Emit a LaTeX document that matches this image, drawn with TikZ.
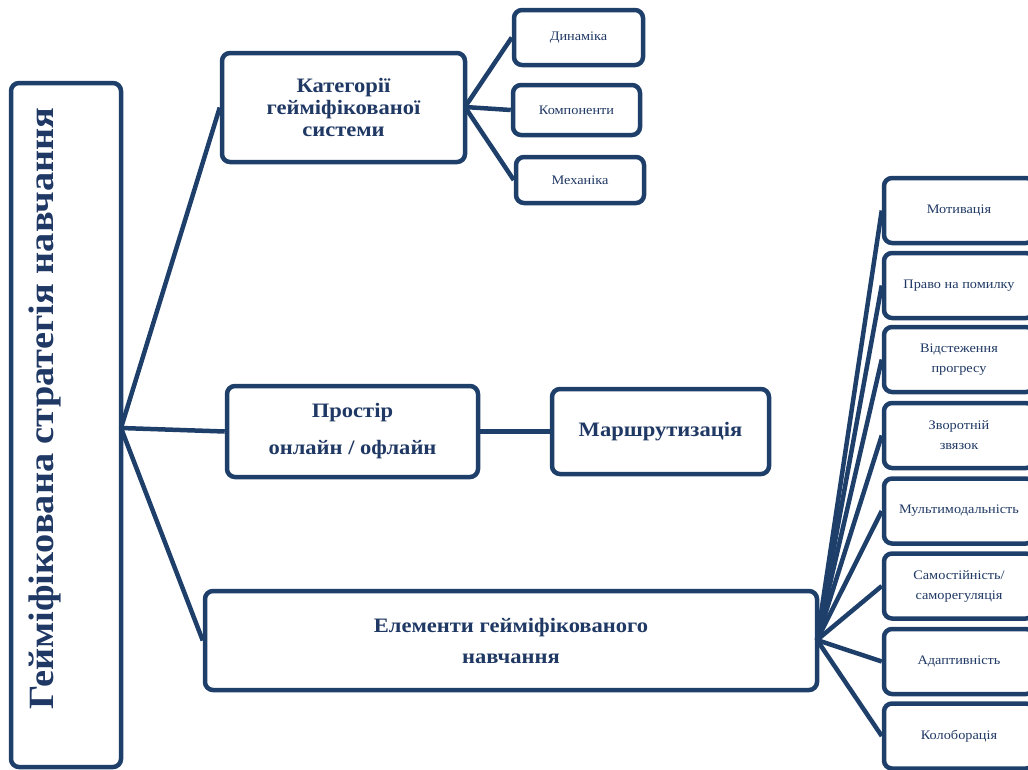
\documentclass[tikz,border=0pt]{standalone}
\usepackage{fontspec}
\setmainfont{Liberation Serif}[FakeStretch=1.1]
\newfontfamily\mainfnt{Liberation Serif}[FakeStretch=1.08]
\definecolor{navy}{HTML}{1F3F6B}
\definecolor{txt}{HTML}{1F3864}
\begin{document}
\begin{tikzpicture}[x=1pt,y=-1pt,
  box/.style={draw=navy,line width=4.5pt,rounded corners=8pt,fill=white,align=center,text=txt,inner sep=0pt},
  link/.style={draw=navy,line width=4.5pt},
  big/.style={font=\fontsize{20.5}{23}\selectfont\bfseries},
  small/.style={font=\fontsize{13}{20}\selectfont}]
\useasboundingbox (0,0) rectangle (1028,769);
\clip (0,0) rectangle (1028,769);
\coordinate (mainR) at (121,428);
\coordinate (catR) at (465,107);
\coordinate (elemR) at (817,640);
% nodes
\node[box,minimum width=110pt,minimum height=684pt] (main) at (66,425) {};
\node[text=txt,rotate=90,anchor=base,font=\mainfnt\fontsize{35.5}{40}\selectfont\bfseries] (maintext) at (53,408.5) {Гейміфікована стратегія навчання};
\node[box,big,minimum width=243pt,minimum height=109pt] (cat) at (343.5,107.5) {Категорії\\[-1pt]гейміфікованої\\[-1pt]системи};
\node[box,small,minimum width=129pt,minimum height=55pt] (dyn) at (578.5,37.5) {Динаміка};
\node[box,small,minimum width=127pt,minimum height=50pt] (komp) at (576.5,110) {Компоненти};
\node[box,small,minimum width=128pt,minimum height=46pt] (mekh) at (580,180) {Механіка};
\node[box,font=\fontsize{20.5}{37}\selectfont\bfseries,minimum width=251pt,minimum height=91pt] (prost) at (352.5,431.5) {Простір\\онлайн / офлайн};
\node[box,big,minimum width=217pt,minimum height=85pt] (marsh) at (660.5,431.5) {Маршрутизація};
\node[box,font=\fontsize{20.5}{31}\selectfont\bfseries,minimum width=612pt,minimum height=99pt] (elem) at (511,640.5) {Елементи гейміфікованого\\навчання};
\foreach \n/\y/\t in {r1/210.5/{Мотивація},r2/285.5/{Право на помилку},r3/359.5/{Відстеження\\прогресу},r4/435.5/{Зворотній\\звязок},r5/511/{Мультимодальність},r6/586/{Самостійність/\\саморегуляція},r7/661.5/{Адаптивність},r8/736/{Колоборація}}
  \node[box,small,minimum width=150pt,minimum height=65pt] (\n) at (959,\y) {\t};
% links
\draw[link] (mainR) -- (cat.west);
\draw[link] (mainR) -- (prost.west);
\draw[link] (mainR) -- (elem.west);
\draw[link] (catR) -- (dyn.west);
\draw[link] (catR) -- (komp.west);
\draw[link] (catR) -- (mekh.west);
\draw[link] (prost.east) -- (marsh.west);
\foreach \n in {r1,r2,r3,r4,r5,r6,r7,r8}
  \draw[link] (elemR) -- (\n.west);
\end{tikzpicture}
\end{document}
